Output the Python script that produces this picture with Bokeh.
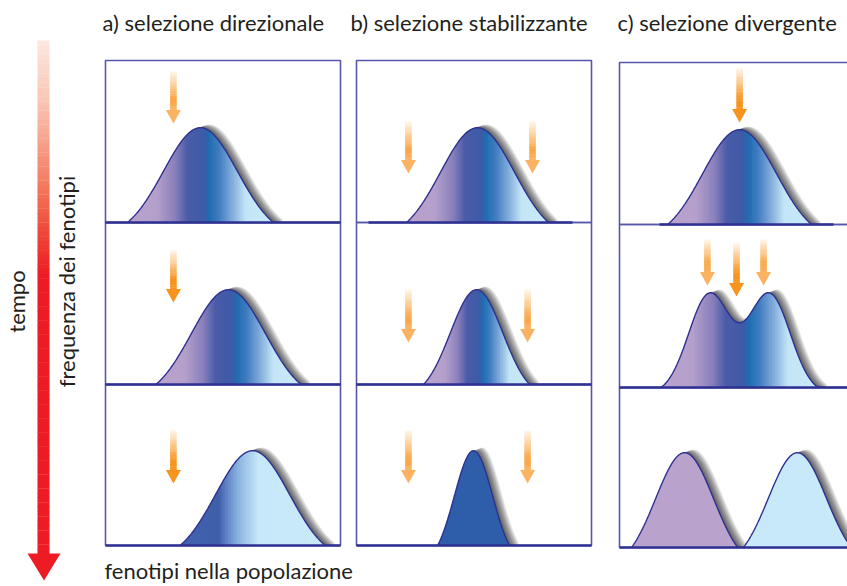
import numpy as np
from bokeh.plotting import figure
from bokeh.models import Range1d
from bokeh.embed import file_html
from bokeh.resources import INLINE
from bokeh.core.properties import value

# ---------------- data ----------------
titles = ["a) selezione direzionale", "b) selezione stabilizzante", "c) selezione divergente"]
x_label = "fenotipi nella popolazione"
y_label = "frequenza dei fenotipi"
time_label = "tempo"

# phenotype distributions: phenotype units 0-100 across a panel, frequency in % of panel height
curve_col = [0, 0, 0, 1, 1, 1, 2, 2, 2, 2]
curve_row = [0, 1, 2, 0, 1, 2, 0, 1, 2, 2]
curve_modes = [[40.4], [52.3], [62.6], [51.5], [51.1], [49.8], [51.1], [38.3, 63.8], [27.7], [75.7]]
curve_spread = [15.7, 15.7, 15.7, 15.7, 11.1, 8.1, 15.7, 8.9, 12.3, 12.3]
curve_halfbase = [31.1, 30.9, 30.9, 30.2, 22.6, 15.3, 30.6, 33.4, 22.6, 23.0]
curve_peak = [58.5, 58.5, 58.5, 58.5, 58.5, 58.5, 58.5, 58.5, 58.5, 58.5]
curve_fill = ["spectrum", "spectrum", "shifted", "spectrum", "spectrum", "#2E5DAA",
              "spectrum", "spectrum", "#B9A3CD", "#C8E9F9"]

spectrum_pos = [-1.0, -0.6, -0.35, -0.18, 0.05, 0.12, 0.25, 0.42, 0.62, 1.0]
spectrum_col = ["#B9A3CD", "#B5A0CB", "#8A80BC", "#4B5CA8", "#3D5BA8", "#1F6DB2",
                "#3F7CC0", "#7DA8D9", "#C3E5F7", "#C8EAF9"]
shifted_pos = [-1.0, -0.47, -0.2, 0.08, 1.0]
shifted_col = ["#4262AD", "#3F5FAB", "#8AB3E0", "#C6E8F8", "#C8EAF9"]

# selection arrows: panel column/row, phenotype position, top and tip (% of panel height from top)
arrow_col = [0, 0, 0, 1, 1, 1, 1, 1, 1, 2, 2, 2, 2]
arrow_row = [0, 1, 2, 0, 0, 1, 1, 2, 2, 0, 1, 1, 1]
arrow_x = [28.9, 28.9, 28.9, 22.1, 74.9, 22.1, 72.8, 22.1, 72.8, 51.1, 37.4, 49.8, 61.3]
arrow_top = [6.8, 17.3, 28.4, 37.7, 37.7, 41.4, 41.4, 28.4, 28.4, 3.7, 9.3, 11.7, 9.3]
arrow_tip = [38.9, 49.4, 61.1, 69.8, 69.8, 74.1, 74.1, 61.1, 61.1, 37.0, 37.7, 44.4, 37.7]
arrow_strength = ["weak", "strong", "strong", "weak", "weak", "weak", "weak", "weak", "weak",
                  "strong", "weak", "strong", "weak"]

# ---------------- layout ----------------
col_left = [105, 356, 619]
col_right = [340, 591, 852]
row_top = [[60, 222, 384], [60, 222, 384], [62, 224, 387]]
row_bottom = [[222, 384, 545], [222, 384, 545], [224, 387, 547]]
base_extent = {(1, 0): (368, 572), (2, 0): (659, 833)}
UX = 2.35   # px per phenotype unit
UY = 1.62   # px per % of panel height

FONT = "Lato"
FS = "22px"
TXT = "#231F20"
NAVY = "#2E3192"
FRAME = "#5558A8"


def hex2rgb(c):
    return [int(c[i:i + 2], 16) for i in (1, 3, 5)]


def interp_color(t, pos, cols):
    rgb = np.array([hex2rgb(c) for c in cols], dtype=float)
    ch = [np.interp(t, pos, rgb[:, k]) for k in range(3)]
    return "#%02x%02x%02x" % tuple(int(round(v)) for v in ch)


p = figure(width=847, height=586, output_backend="svg", toolbar_location=None,
           x_range=Range1d(0, 847), y_range=Range1d(586, 0),
           min_border=0, min_border_left=0, min_border_right=0,
           min_border_top=0, min_border_bottom=0)
p.axis.visible = False
p.grid.visible = False
p.outline_line_color = None
p.background_fill_color = "white"
p.border_fill_color = "white"

# ---- panel frames ----
for c in range(3):
    for r in range(3):
        p.quad(left=[col_left[c]], right=[col_right[c]], top=[row_top[c][r]],
               bottom=[row_bottom[c][r]], fill_color=None, line_color=FRAME, line_width=1.6)

# ---- curves ----
curves = []
for i in range(len(curve_col)):
    c, r = curve_col[i], curve_row[i]
    left = col_left[c]
    base = row_bottom[c][r]
    modes = [left + m * UX for m in curve_modes[i]]
    mid = float(np.mean(modes))
    hb = curve_halfbase[i] * UX
    s = curve_spread[i] * UX
    xs = np.linspace(mid - hb, mid + hb, 240)
    f = sum(np.exp(-(xs - m) ** 2 / (2 * s * s)) for m in modes)
    fe = min(f[0], f[-1])
    h = curve_peak[i] * UY
    ys = np.clip(h * (f - fe) / (f.max() - fe), 0, None)
    curves.append((xs, base - ys, base, mid, hb, curve_fill[i]))

# soft drop shadows
for xs, yp, base, mid, hb, fill in curves:
    for k in range(1, 10):
        sx = list(xs + k * 1.0) + [xs[-1] + k * 1.0, xs[0] + k * 1.0]
        sy = list(yp - k * 0.35) + [base, base]
        p.patch(sx, sy, fill_color="black", fill_alpha=0.095, line_color=None)

# fills
for xs, yp, base, mid, hb, fill in curves:
    outline_x = list(xs) + [xs[-1], xs[0]]
    outline_y = list(yp) + [base, base]
    if fill in ("spectrum", "shifted"):
        pos, cols = (spectrum_pos, spectrum_col) if fill == "spectrum" else (shifted_pos, shifted_col)
        # opaque underlay so strip seams never reveal the shadow
        p.patch(outline_x, outline_y, fill_color=interp_color(0.0, pos, cols), line_color=None)
        edges = np.arange(xs[0], xs[-1], 1.5)
        edges = np.append(edges, xs[-1])
        pxs, pys, pcs = [], [], []
        for a, b in zip(edges[:-1], edges[1:]):
            b2 = min(b + 0.8, xs[-1])
            ta, tb = np.interp(a, xs, yp), np.interp(b2, xs, yp)
            pxs.append([a, a, b2, b2])
            pys.append([base, ta, tb, base])
            pcs.append(interp_color(((a + b) / 2 - mid) / hb, pos, cols))
        p.patches(xs=pxs, ys=pys, fill_color=pcs, line_color=None)
    else:
        p.patch(outline_x, outline_y, fill_color=fill, line_color=None)

# outlines
for xs, yp, base, mid, hb, fill in curves:
    p.line(xs, yp, line_color=NAVY, line_width=1.4)

# baselines
for c in range(3):
    for r in range(3):
        x0, x1 = base_extent.get((c, r), (col_left[c], col_right[c]))
        p.segment(x0=[x0], x1=[x1], y0=[row_bottom[c][r]], y1=[row_bottom[c][r]],
                  line_color=NAVY, line_width=2.6)

# ---- selection arrows ----
DARK_OR = "#F7941D"
LIGHT_OR = "#FBB262"
for i in range(len(arrow_col)):
    c, r = arrow_col[i], arrow_row[i]
    x = col_left[c] + arrow_x[i] * UX
    y0 = row_top[c][r] + arrow_top[i] * UY
    tip = row_top[c][r] + arrow_tip[i] * UY
    head_len = 13.5
    hw, sw = 7.5, 3.3
    y1 = tip - head_len
    if arrow_strength[i] == "strong":
        pos, cols = [0, 0.75, 1], ["#FFF6EC", DARK_OR, DARK_OR]
        head = DARK_OR
    else:
        pos, cols = [0, 0.72, 1], ["#FFF6EC", "#F9A441", LIGHT_OR]
        head = LIGHT_OR
    n = 18
    ed = np.linspace(y0, y1 + 0.6, n + 1)
    cs = [interp_color((k + 0.5) / n, pos, cols) for k in range(n)]
    p.quad(left=[x - sw] * n, right=[x + sw] * n, top=list(ed[:-1]), bottom=list(ed[1:] + 0.3),
           fill_color=cs, line_color=None)
    p.patch([x - hw, x + hw, x], [y1, y1, tip], fill_color=head, line_color=None)

# ---- time arrow ----
tx0, tx1, ty0, ty1, tip_y = 37, 49, 40, 553, 580
t_pos = [40, 100, 150, 200, 245, 275, 553]
t_col = ["#FDE7DF", "#FAC6B5", "#F69A82", "#F26A50", "#EE3A31", "#ED1C24", "#ED1C24"]
n = 110
ed = np.linspace(ty0, ty1, n + 1)
cs = [interp_color((ed[k] + ed[k + 1]) / 2, t_pos, t_col) for k in range(n)]
p.quad(left=[tx0] * n, right=[tx1] * n, top=list(ed[:-1]), bottom=list(ed[1:] + 0.4),
       fill_color=cs, line_color=None)
p.patch([27, 60, 43.5], [ty1, ty1, tip_y], fill_color="#ED1C24", line_color=None)

# ---- texts ----
p.text(x=[102, 350, 617], y=[22, 22, 22], text=titles, text_font=value(FONT),
       text_font_size=FS, text_color=TXT, text_baseline="middle", text_align="left")
p.text(x=[104], y=[570], text=[x_label], text_font=value(FONT), text_font_size=FS,
       text_color=TXT, text_baseline="middle", text_align="left")
p.text(x=[65.5], y=[281], text=[y_label], text_font=value(FONT), text_font_size=FS,
       text_color=TXT, text_baseline="middle", text_align="center", angle=np.pi / 2)
p.text(x=[15.5], y=[301], text=[time_label], text_font=value(FONT), text_font_size=FS,
       text_color=TXT, text_baseline="middle", text_align="center", angle=np.pi / 2)

open("out.html", "w").write(file_html(p, INLINE))
